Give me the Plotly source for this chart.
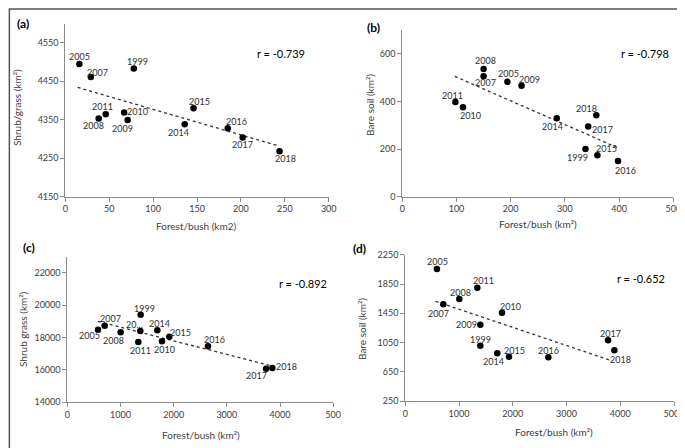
import plotly.graph_objects as go

# ---- data ----
years_a = ["2005", "2007", "1999", "2011", "2008", "2010", "2009", "2014", "2015", "2016", "2017", "2018"]
forest_a = [16, 29, 78, 46, 38, 67, 71, 136, 146, 185, 202, 244]
shrub_a = [4495, 4461, 4483, 4364, 4353, 4369, 4349, 4338, 4380, 4328, 4304, 4268]
trend_a_x = [14, 243]
trend_a_y = [4434, 4282]

years_b = ["2008", "2007", "2005", "2009", "2011", "2010", "2014", "2018", "2017", "1999", "2015", "2016"]
forest_b = [150, 150, 194, 220, 98, 112, 285, 358, 343, 338, 360, 398]
soil_b = [536, 506, 482, 466, 397, 375, 329, 342, 295, 200, 174, 150]
trend_b_x = [97, 397]
trend_b_y = [505, 206]

years_c = ["2005", "2007", "2008", "1999", "20...", "2011", "2014", "2010", "2015", "2016", "2017", "2018"]
forest_c = [577, 702, 1003, 1379, 1373, 1335, 1693, 1780, 1918, 2646, 3737, 3856]
shrub_c = [18474, 18722, 18309, 19402, 18391, 17711, 18433, 17753, 18041, 17443, 16062, 16103]
trend_c_x = [577, 3868]
trend_c_y = [18990, 16206]

years_d = ["2005", "2011", "2008", "2007", "2010", "2009", "1999", "2014", "2015", "2016", "2017", "2018"]
forest_d = [589, 1340, 1005, 707, 1799, 1396, 1396, 1712, 1929, 2661, 3772, 3890]
soil_d = [2055, 1800, 1645, 1573, 1459, 1295, 1009, 905, 859, 850, 1082, 945]
trend_d_x = [564, 3852]
trend_d_y = [1614, 800]

r_values = ["r = -0.739", "r = -0.798", "r = -0.892", "r = -0.652"]
panel_tags = ["(a)", "(b)", "(c)", "(d)"]
c_tickvals = [0, 1000, 2000, 3000, 4000, 5000]
c_ticktext = ["0", "1000", "2000", "3000", "4000", "500"]  # typo kept from original
x_titles = ["Forest/bush (km2)", "Forest/bush (km²)", "Forest/bush (km²)", "Forest/bush (km²)"]
y_titles = ["Shrub/grass (km²)", "Bare soil (km²)", "Shrub grass (km²)", "Bare soil (km²)"]

# label offsets in px (dx right, dy down) -- styling only
off_a = [(0, -7), (7, -5), (4, -7), (-3, -8), (-5, 7), (13, -1), (-5, 8), (-6, 8), (6, -7), (9, -7), (0, 7), (6, 7)]
off_b = [(2, -8), (2, 6), (1, -8), (8, -6), (-3, -7), (8, 8), (-4, 8), (-10, -7), (14, 3), (-8, 8), (9, -7), (8, 10)]
off_c = [(-9, 6), (6, -7), (-7, 8), (4, -6), (-6, -7), (2, 8), (2, -7), (3, 8), (11, -4), (6, -7), (-10, 7), (14, -2)]
off_d = [(1, -8), (6, -7), (1, -7), (-5, 9), (9, -6), (-14, 0), (0, -6), (-4, 8), (6, -6), (0, -7), (2, -7), (6, 9)]

W, H = 685, 448
FONT = "Lato"
TXT = "#404040"

fig = go.Figure()

panels = [
    ("x", "y", forest_a, shrub_a, years_a, off_a, trend_a_x, trend_a_y),
    ("x2", "y2", forest_b, soil_b, years_b, off_b, trend_b_x, trend_b_y),
    ("x3", "y3", forest_c, shrub_c, years_c, off_c, trend_c_x, trend_c_y),
    ("x4", "y4", forest_d, soil_d, years_d, off_d, trend_d_x, trend_d_y),
]

annotations = []
for xa, ya, xs, ys, labels, offs, tx, ty in panels:
    fig.add_trace(go.Scatter(
        x=tx, y=ty, xaxis=xa, yaxis=ya, mode="lines",
        line=dict(color="#333333", width=1.3, dash="dot"),
        showlegend=False, hoverinfo="skip",
    ))
    fig.add_trace(go.Scatter(
        x=xs, y=ys, xaxis=xa, yaxis=ya, mode="markers",
        marker=dict(color="black", size=6.5),
        showlegend=False,
    ))
    for xv, yv, lab, (dx, dy) in zip(xs, ys, labels, offs):
        annotations.append(dict(
            x=xv, y=yv, xref=xa, yref=ya, text=lab, showarrow=False,
            xanchor="center", yanchor="middle",
            xshift=dx, yshift=-dy, font=dict(size=9, color="#303030", family=FONT),
        ))


def paper_note(text, cx, cy, size, color, angle=0):
    # cx, cy are pixel positions from top-left of the picture
    return dict(x=cx / W, y=1 - cy / H, xref="paper", yref="paper", text=text,
                xanchor="center", yanchor="middle", textangle=angle, showarrow=False,
                font=dict(size=size, color=color, family=FONT))


for txt, (cx, cy) in zip(r_values, [(273, 45), (637, 45), (295, 275), (633, 270)]):
    annotations.append(paper_note(txt, cx, cy, 11, "black"))
for txt, (cx, cy) in zip(panel_tags, [(15, 15), (365, 19), (21, 239), (351, 240)]):
    annotations.append(paper_note(f"<b>{txt}</b>", cx, cy, 12, "black"))
for txt, (cx, cy) in zip(x_titles, [(188, 218), (530, 216), (193, 427), (546, 424)]):
    annotations.append(paper_note(txt, cx, cy, 10, TXT))
for txt, (cx, cy) in zip(y_titles, [(9, 100), (362, 97), (15, 321), (354, 321)]):
    annotations.append(paper_note(txt, cx, cy, 10, TXT, angle=-90))

axis_style = dict(
    showline=True, linecolor="#8c8c8c", linewidth=1, ticks="outside", ticklen=4,
    tickcolor="#8c8c8c", showgrid=False, zeroline=False, automargin=False,
    ticklabeloverflow="allow", tickformat="d",
    tickfont=dict(size=9, color=TXT, family=FONT),
)

fig.update_layout(
    width=W, height=H,
    margin=dict(l=0, r=0, t=0, b=0),
    paper_bgcolor="white", plot_bgcolor="white",
    font=dict(family=FONT),
    annotations=annotations,
    xaxis=dict(domain=[0.0837, 0.4682], range=[0, 300], dtick=50, tick0=0, anchor="y", **axis_style),
    yaxis=dict(domain=[0.5788, 0.9654], range=[4150, 4600], dtick=100, tick0=4150, anchor="x", **axis_style),
    xaxis2=dict(domain=[0.5756, 0.9712], range=[0, 500], dtick=100, tick0=0, anchor="y2", **axis_style),
    yaxis2=dict(domain=[0.5788, 0.9511], range=[0, 700], dtick=200, tick0=0, anchor="x2", **axis_style),
    xaxis3=dict(domain=[0.0866, 0.4747], range=[0, 5000], tickvals=c_tickvals, ticktext=c_ticktext,
                anchor="y3", **axis_style),
    yaxis3=dict(domain=[0.1205, 0.4453], range=[14000, 23000], dtick=2000, tick0=14000, anchor="x3", **axis_style),
    xaxis4=dict(domain=[0.58, 0.9723], range=[0, 5000], dtick=1000, tick0=0, anchor="y4", **axis_style),
    yaxis4=dict(domain=[0.1221, 0.4493], range=[250, 2250], dtick=400, tick0=250, anchor="x4", **axis_style),
    shapes=[dict(type="rect", xref="paper", yref="paper", x0=0.002, x1=0.998, y0=0.002, y1=0.998,
                 line=dict(color="#555555", width=1.5))],
)

fig.write_html("out.html")
